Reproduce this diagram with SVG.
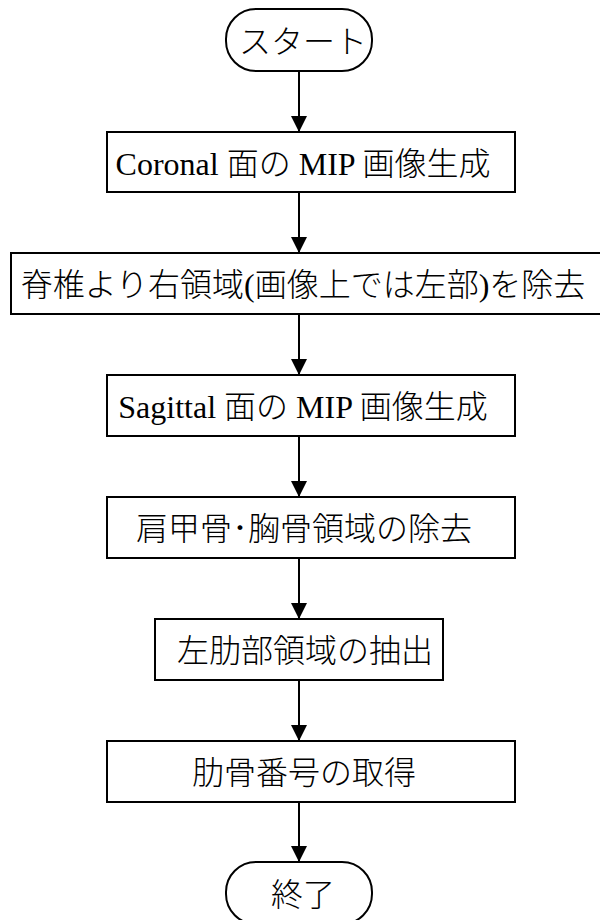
<svg xmlns="http://www.w3.org/2000/svg" width="600" height="920" viewBox="0 0 600 920">
<defs>
<style>
.box{fill:#fff;stroke:#000;stroke-width:2}
.t{font-family:"Liberation Serif","Noto Sans CJK JP",serif;font-size:32px;font-weight:300;fill:#000;text-anchor:middle}
.c{stroke:#000;stroke-width:2;fill:none;marker-end:url(#ah)}
</style>
<marker id="ah" markerUnits="userSpaceOnUse" markerWidth="16" markerHeight="16" refX="16" refY="8" orient="auto" viewBox="0 0 16 16">
<path d="M0,0 L16,8 L0,16 Z" fill="#000"/>
</marker>
</defs>
<g id="connectors">
<line class="c" x1="299" y1="71" x2="299" y2="132"/>
<line class="c" x1="299" y1="192" x2="299" y2="253"/>
<line class="c" x1="299" y1="314" x2="299" y2="375"/>
<line class="c" x1="299" y1="436" x2="299" y2="497"/>
<line class="c" x1="299" y1="558" x2="299" y2="619"/>
<line class="c" x1="299" y1="680" x2="299" y2="741"/>
<line class="c" x1="299" y1="802" x2="299" y2="862"/>
</g>
<g id="start">
<rect class="box" x="226" y="9" width="146" height="62" rx="30" ry="30"/>
<text class="t" x="303" y="53">スタート</text>
</g>
<g id="coronal">
<rect class="box" x="107" y="132" width="408" height="60"/>
<text class="t" x="303" y="175">Coronal 面の MIP 画像生成</text>
</g>
<g id="remove-right">
<rect class="box" x="11" y="253" width="600" height="61"/>
<text class="t" x="303" y="296">脊椎より右領域(画像上では左部)を除去</text>
</g>
<g id="sagittal">
<rect class="box" x="107" y="375" width="408" height="61"/>
<text class="t" x="303" y="418">Sagittal 面の MIP 画像生成</text>
</g>
<g id="remove-scapula">
<rect class="box" x="107" y="497" width="408" height="61"/>
<text class="t" x="304" y="540">肩甲骨･胸骨領域の除去</text>
</g>
<g id="extract">
<rect class="box" x="155" y="619" width="288" height="61"/>
<text class="t" x="305" y="662">左肋部領域の抽出</text>
</g>
<g id="rib-number">
<rect class="box" x="107" y="741" width="408" height="61"/>
<text class="t" x="304" y="784">肋骨番号の取得</text>
</g>
<g id="end">
<rect class="box" x="226" y="862" width="146" height="62" rx="30" ry="30"/>
<text class="t" x="303" y="906">終了</text>
</g>
</svg>
